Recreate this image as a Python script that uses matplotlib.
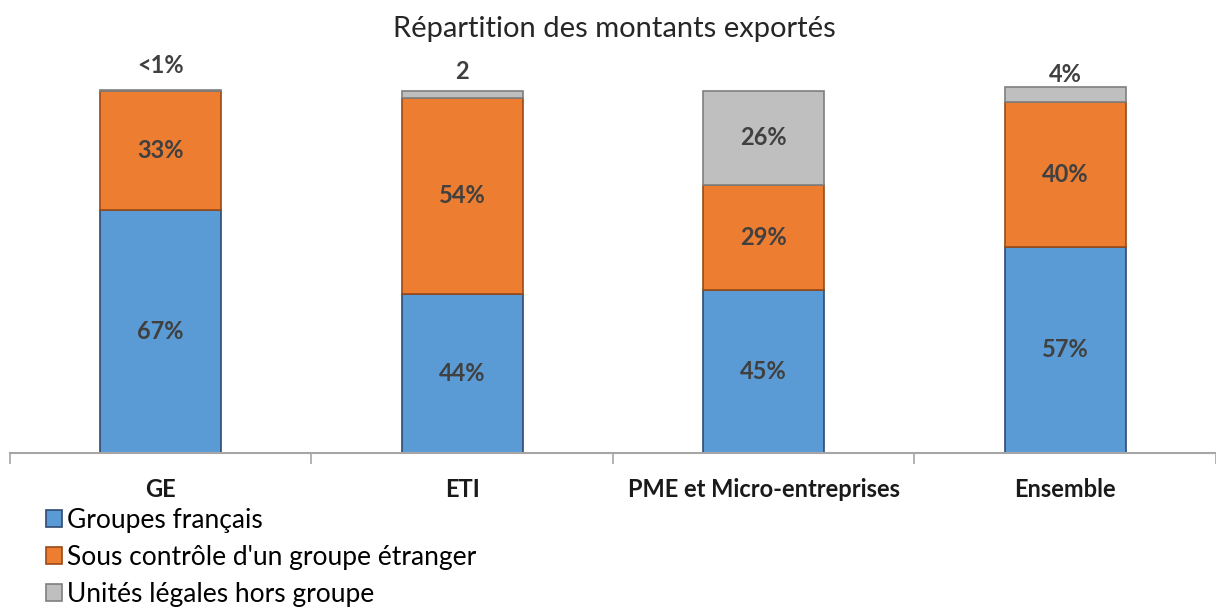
import matplotlib.pyplot as plt
import numpy as np

categories = ['GE', 'ETI', 'PME et Micro-entreprises', 'Ensemble']
series_names = ['Groupes français', "Sous contrôle d'un groupe étranger", 'Unités légales hors groupe']
groupes_fr = [67, 44, 45, 57]
etranger = [33, 54, 29, 40]
hors_groupe = [0.2, 2, 26, 4]
labels_fr = ['67%', '44%', '45%', '57%']
labels_etr = ['33%', '54%', '29%', '40%']
labels_hors = ['<1%', '2', '26%', '4%']

plt.rcParams['font.family'] = ['Lato', 'DejaVu Sans']

colors = ['#5B9BD5', '#ED7D31', '#BFBFBF']
edges = ['#2E4A72', '#9A4A16', '#7F7F7F']
txt = '#404040'

fig = plt.figure(figsize=(12.16, 6.10), dpi=100)
ax = fig.add_axes([0.0082, 0.2574, 0.9918, 0.6607])

x = np.arange(len(categories))
w = 0.4
bottom = np.zeros(len(categories))
for vals, c, e, name in zip([groupes_fr, etranger, hors_groupe], colors, edges, series_names):
    ax.bar(x, vals, w, bottom=bottom, color=c, edgecolor=e, linewidth=1.2, label=name)
    bottom = bottom + np.array(vals)

# labels inside segments
for i in range(len(categories)):
    ax.text(x[i], groupes_fr[i] / 2, labels_fr[i], ha='center', va='center',
            fontsize=17, fontweight='bold', color=txt)
    ax.text(x[i], groupes_fr[i] + etranger[i] / 2, labels_etr[i], ha='center', va='center',
            fontsize=17, fontweight='bold', color=txt)

# gray labels: inside when big, above when small
above_offset = [18, 14, 0, 9]
for i in range(len(categories)):
    top = groupes_fr[i] + etranger[i] + hors_groupe[i]
    if hors_groupe[i] > 10:
        ax.text(x[i], top - hors_groupe[i] / 2, labels_hors[i], ha='center', va='center',
                fontsize=17, fontweight='bold', color=txt)
    else:
        ax.annotate(labels_hors[i], (x[i], top), xytext=(0, above_offset[i]),
                    textcoords='offset points', ha='center', va='center',
                    fontsize=17, fontweight='bold', color=txt)

ax.set_xlim(-0.5, 3.5)
ax.set_ylim(0, 111.3)
ax.set_yticks([])
for s in ['top', 'left', 'right']:
    ax.spines[s].set_visible(False)
ax.spines['bottom'].set_color('#A6A6A6')
ax.spines['bottom'].set_linewidth(1.5)
ax.set_xticks(x)
ax.set_xticklabels(categories, fontsize=17, fontweight='bold', color='#1A1A1A')
ax.tick_params(axis='x', which='major', length=0, pad=18)
ax.set_xticks(np.arange(-0.5, 4.0, 1.0), minor=True)
ax.tick_params(axis='x', which='minor', length=8, width=1.2, color='#A6A6A6')

fig.text(0.505, 0.952, 'Répartition des montants exportés', ha='center', va='center',
         fontsize=21, color='#262626')

fig.legend(loc='upper left', bbox_to_anchor=(0.038, 0.167), frameon=False,
           fontsize=19, handlelength=0.6, handleheight=0.6, handletextpad=0.2,
           labelspacing=0.45, borderaxespad=0, borderpad=0)

fig.savefig('out.png', dpi=100)
